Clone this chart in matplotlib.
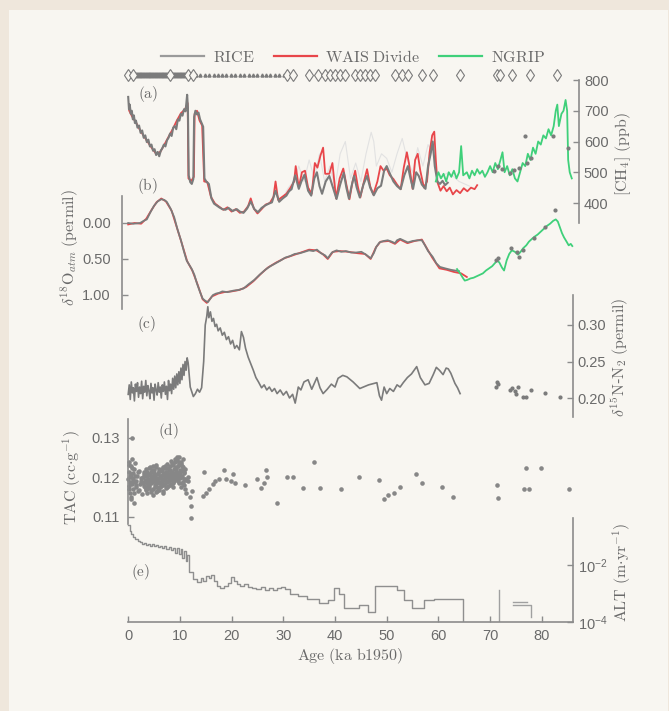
import matplotlib
matplotlib.use('Agg')
import matplotlib.pyplot as plt
from matplotlib.patches import Rectangle
from matplotlib.lines import Line2D
from matplotlib.ticker import FormatStrFormatter, NullLocator

# ---------------- data (age in ka b1950) ----------------
tie_ages = [0.0, 1.0, 8.1, 11.6, 12.6, 30.7, 31.9, 35.0, 36.8, 38.1, 39.0, 40.0, 41.0, 41.9,
            43.9, 44.8, 45.8, 46.8, 47.7, 51.6, 52.9, 54.2, 56.8, 59.0, 64.2, 71.3, 71.9,
            74.2, 77.7, 82.9]
layer_ages = [0.0, 0.25, 0.5, 0.75, 1.0, 1.25, 1.5, 1.75, 2.0, 2.25, 2.5, 2.75, 3.0, 3.25,
              3.5, 3.75, 4.0, 4.25, 4.5, 4.75, 5.0, 5.25, 5.5, 5.75, 6.0, 6.25, 6.5, 6.75,
              7.0, 7.25, 7.5, 7.75, 8.0, 8.25, 8.5, 8.75, 9.0, 9.25, 9.5, 9.75, 10.0, 10.25,
              10.5, 10.75, 11.0, 11.25, 11.5, 11.75, 12.0, 12.25, 12.5]
sparse_ages = [13.1, 13.9, 14.8, 15.6, 16.5, 17.3, 18.2, 19.0, 19.9, 20.7, 21.6, 22.4, 23.3,
               24.1, 25.0, 25.8, 26.7, 27.5, 28.4, 29.2, 30.1]

rice_ch4 = [(0.0, 745), (0.15, 705), (0.3, 720), (0.5, 690), (0.7, 700), (0.9, 672), (1.1, 685),
            (1.3, 660), (1.5, 668), (1.8, 645), (2.1, 652), (2.4, 628), (2.7, 636), (3.0, 612),
            (3.3, 620), (3.6, 598), (3.9, 606), (4.2, 584), (4.5, 590), (4.8, 570), (5.1, 575),
            (5.4, 556), (5.7, 566), (6.0, 552), (6.3, 570), (6.6, 578), (6.9, 590), (7.2, 584),
            (7.5, 604), (7.8, 612), (8.1, 626), (8.4, 618), (8.7, 645), (9.0, 650), (9.3, 640),
            (9.6, 672), (9.9, 668), (10.2, 690), (10.5, 684), (10.8, 705), (11.1, 698), (11.4, 752),
            (11.55, 710), (11.7, 490), (12.0, 468), (12.3, 462), (12.6, 478), (12.75, 680),
            (13.0, 700), (13.3, 688), (13.6, 694), (13.9, 672), (14.2, 660), (14.5, 648),
            (14.75, 480), (15.1, 470), (15.6, 462), (16.1, 415), (16.6, 398), (17.1, 392),
            (17.6, 386), (18.2, 380), (18.8, 378), (19.4, 384), (20.2, 374), (21.0, 380),
            (21.6, 372), (22.3, 368), (23.0, 382), (23.7, 405), (24.4, 380), (25.1, 370),
            (25.8, 384), (26.5, 392), (27.2, 398), (27.8, 402), (28.5, 440), (29.2, 404),
            (29.9, 415), (30.6, 424), (31.1, 438), (31.6, 445), (32.3, 490), (33.0, 446),
            (33.5, 470), (34.1, 492), (34.8, 440), (35.4, 424), (36.0, 480), (36.5, 500),
            (37.0, 455), (37.5, 430), (38.2, 470), (38.9, 488), (39.6, 450), (40.3, 413),
            (41.0, 460), (41.7, 498), (42.2, 450), (42.7, 414), (43.2, 455), (43.7, 488),
            (44.2, 450), (44.8, 418), (45.5, 460), (46.2, 488), (46.8, 450), (47.5, 425),
            (48.2, 448), (48.9, 456), (49.5, 505), (50.0, 520), (50.5, 500), (51.3, 470),
            (52.0, 455), (52.7, 445), (53.4, 490), (54.1, 520), (54.6, 480), (55.1, 446),
            (55.7, 500), (56.2, 488), (56.8, 460), (57.5, 446), (58.0, 520), (58.5, 560),
            (58.9, 600), (59.3, 520), (59.8, 470), (60.3, 462), (60.8, 472), (61.3, 458),
            (61.8, 466)]
rice_ch4_late = [(70.8, 505), (71.6, 520), (72.3, 512), (73.8, 498), (74.6, 506), (75.6, 515),
                 (76.8, 617), (77.2, 530), (78.0, 545), (82.1, 617), (85.0, 580)]
wais_ch4 = [(0.2, 700), (0.8, 680), (1.5, 662), (2.2, 640), (3.0, 618), (3.8, 598), (4.6, 578),
            (5.4, 560), (6.2, 566), (7.0, 590), (7.8, 615), (8.6, 640), (9.4, 668), (10.2, 692),
            (11.0, 705), (11.5, 725), (11.65, 480), (12.2, 472), (12.7, 485), (12.85, 690),
            (13.3, 700), (13.8, 668), (14.3, 652), (14.7, 470), (15.3, 468), (16.0, 420),
            (16.8, 398), (17.6, 388), (18.4, 378), (19.2, 386), (20.0, 372), (20.8, 380),
            (21.6, 368), (22.4, 372), (23.2, 390), (23.7, 415), (24.3, 382), (25.0, 366),
            (25.8, 380), (26.6, 395), (27.4, 400), (28.1, 420), (28.5, 470), (29.0, 410),
            (29.8, 420), (30.6, 430), (31.4, 450), (32.1, 470), (32.4, 520), (33.0, 450),
            (33.6, 500), (34.2, 505), (34.8, 450), (35.5, 430), (36.1, 530), (36.6, 515),
            (37.2, 555), (37.7, 580), (38.1, 495), (38.9, 495), (39.5, 530), (40.2, 415),
            (40.9, 480), (41.6, 512), (42.2, 460), (42.8, 412), (43.4, 470), (43.9, 505),
            (44.4, 455), (44.9, 418), (45.6, 470), (46.2, 510), (46.8, 455), (47.4, 428),
            (48.2, 470), (48.8, 520), (49.4, 505), (50.0, 512), (50.6, 490), (51.3, 478),
            (52.0, 460), (52.7, 445), (53.3, 515), (53.9, 565), (54.3, 530), (55.0, 446),
            (55.5, 540), (56.0, 560), (56.5, 505), (57.2, 450), (57.8, 470), (58.3, 565),
            (58.8, 620), (59.2, 632), (59.5, 540), (59.8, 468), (60.4, 440), (61.0, 455),
            (61.6, 438), (62.2, 450), (62.8, 428), (63.5, 442), (64.2, 432), (64.9, 448),
            (65.6, 438), (66.3, 450), (67.0, 445), (67.5, 458)]
faint_ch4 = [(30.0, 420), (31.0, 450), (32.0, 470), (33.0, 520), (34.0, 470), (35.0, 540),
             (36.0, 480), (37.0, 560), (38.0, 470), (39.0, 520), (40.0, 450), (41.0, 560),
             (42.0, 600), (43.0, 480), (44.0, 530), (45.0, 470), (46.0, 560), (47.0, 630),
             (47.5, 600), (48.0, 520), (49.0, 560), (50.0, 545), (51.0, 500), (52.0, 560),
             (53.0, 610), (54.0, 540), (55.0, 500), (56.0, 580), (57.0, 520), (58.0, 590),
             (59.0, 560), (60.0, 480), (62.0, 500), (64.0, 470), (66.0, 455)]
ngrip_ch4 = [(59.5, 470), (60.0, 500), (60.5, 480), (61.0, 495), (61.5, 470), (62.0, 500),
             (62.5, 485), (63.0, 505), (63.5, 480), (64.0, 500), (64.4, 585), (64.8, 490),
             (65.5, 500), (66.0, 480), (66.5, 505), (67.0, 490), (67.5, 510), (68.0, 495),
             (68.5, 505), (69.0, 485), (69.5, 500), (70.0, 520), (70.5, 500), (71.0, 530),
             (71.5, 510), (72.0, 540), (72.4, 565), (72.8, 500), (73.3, 520), (73.8, 490),
             (74.3, 510), (74.8, 480), (75.3, 470), (75.8, 500), (76.3, 530), (76.8, 520),
             (77.3, 560), (77.8, 540), (78.3, 580), (78.8, 560), (79.3, 600), (79.8, 590),
             (80.3, 620), (80.8, 610), (81.3, 640), (81.8, 620), (82.3, 650), (82.7, 700),
             (83.0, 720), (83.3, 650), (83.8, 690), (84.2, 700), (84.6, 735), (84.9, 700),
             (85.1, 540), (85.4, 500), (85.8, 480)]

rice_d18o = [(0.0, 0.0), (1.0, 0.01), (2.3, 0.0), (3.0, -0.03), (3.6, -0.05), (4.3, -0.15),
             (5.0, -0.24), (5.7, -0.30), (6.4, -0.33), (7.0, -0.32), (7.5, -0.29), (8.2, -0.2),
             (8.9, -0.08), (9.5, 0.08), (10.2, 0.24), (10.8, 0.4), (11.3, 0.52), (11.8, 0.58),
             (12.3, 0.64), (12.8, 0.72), (13.3, 0.84), (13.9, 0.96), (14.4, 1.05), (14.9, 1.08),
             (15.4, 1.1), (15.9, 1.05), (16.4, 1.0), (17.0, 0.98), (17.6, 0.97), (18.2, 0.95),
             (19.2, 0.96), (20.3, 0.94), (21.3, 0.93), (22.3, 0.91), (23.3, 0.85), (24.4, 0.79),
             (25.4, 0.72), (26.5, 0.65), (27.5, 0.6), (28.5, 0.56), (29.5, 0.52), (30.4, 0.48),
             (31.3, 0.46), (32.2, 0.43), (33.2, 0.42), (34.1, 0.40), (35.0, 0.38), (35.8, 0.39),
             (36.5, 0.37), (37.3, 0.42), (38.1, 0.45), (38.6, 0.49), (39.4, 0.41), (40.3, 0.38),
             (41.2, 0.40), (42.1, 0.39), (43.1, 0.41), (44.1, 0.41), (45.1, 0.40), (46.0, 0.44),
             (46.9, 0.49), (47.5, 0.42), (48.0, 0.33), (48.6, 0.27), (49.4, 0.25), (50.2, 0.24),
             (51.0, 0.26), (51.6, 0.28), (52.0, 0.24), (52.6, 0.22), (53.2, 0.24), (54.1, 0.27),
             (55.0, 0.25), (56.0, 0.24), (56.8, 0.24), (57.4, 0.31), (58.0, 0.39), (58.9, 0.47),
             (59.6, 0.56), (60.3, 0.61), (61.3, 0.63), (62.4, 0.65), (63.2, 0.66), (64.0, 0.67)]
wais_d18o = [(0.0, 0.02), (1.2, 0.0), (2.5, 0.01), (3.5, -0.06), (4.5, -0.18), (5.5, -0.29),
             (6.4, -0.34), (7.3, -0.30), (8.4, -0.17), (9.4, 0.06), (10.4, 0.29), (11.4, 0.53),
             (12.4, 0.66), (13.4, 0.85), (14.4, 1.06), (15.2, 1.11), (16.2, 1.02), (17.4, 0.98),
             (18.6, 0.96), (20.0, 0.95), (21.5, 0.93), (22.8, 0.89), (24.2, 0.81), (25.6, 0.71),
             (27.0, 0.62), (28.6, 0.55), (30.2, 0.49), (31.8, 0.45), (33.4, 0.41), (35.0, 0.37),
             (36.4, 0.38), (37.6, 0.43), (38.6, 0.50), (39.6, 0.40), (41.0, 0.39), (42.6, 0.40),
             (44.4, 0.42), (45.8, 0.43), (46.9, 0.50), (47.9, 0.34), (48.8, 0.26), (50.4, 0.25),
             (51.6, 0.29), (52.6, 0.23), (54.0, 0.28), (55.4, 0.25), (56.8, 0.23), (57.6, 0.33),
             (58.8, 0.48), (60.2, 0.63), (61.6, 0.65), (63.0, 0.68), (64.4, 0.70), (65.5, 0.75)]
ngrip_d18o = [(63.6, 0.64), (64.2, 0.70), (64.8, 0.77), (65.1, 0.80), (65.6, 0.79), (66.2, 0.77),
              (66.8, 0.76), (67.4, 0.74), (68.0, 0.72), (68.6, 0.70), (69.2, 0.66), (69.8, 0.63),
              (70.4, 0.60), (70.9, 0.56), (71.4, 0.52), (71.8, 0.55), (72.3, 0.62), (72.7, 0.66),
              (73.2, 0.52), (73.7, 0.43), (74.2, 0.38), (74.8, 0.40), (75.4, 0.44), (75.9, 0.40),
              (76.4, 0.35), (77.0, 0.31), (77.5, 0.26), (78.1, 0.22), (78.6, 0.19), (79.2, 0.16),
              (79.8, 0.12), (80.4, 0.08), (81.0, 0.04), (81.6, 0.01), (82.2, -0.03), (82.7, -0.05),
              (83.1, -0.02), (83.5, 0.06), (83.9, 0.14), (84.3, 0.20), (84.8, 0.26), (85.2, 0.31),
              (85.6, 0.29), (85.9, 0.32)]
rice_d18o_dots = [(71.2, 0.52), (71.5, 0.48), (74.0, 0.35), (75.2, 0.40), (75.6, 0.47),
                  (76.4, 0.38), (78.4, 0.21), (80.6, 0.06), (82.6, -0.18)]

d15n = [(0.0, 0.205), (0.2, 0.218), (0.4, 0.198), (0.6, 0.222), (0.8, 0.207), (1.0, 0.214),
        (1.2, 0.196), (1.4, 0.219), (1.6, 0.209), (1.8, 0.221), (2.0, 0.201), (2.2, 0.215),
        (2.4, 0.206), (2.6, 0.223), (2.8, 0.199), (3.0, 0.216), (3.2, 0.208), (3.4, 0.224),
        (3.6, 0.203), (3.8, 0.217), (4.0, 0.210), (4.2, 0.199), (4.4, 0.220), (4.6, 0.207),
        (4.8, 0.214), (5.0, 0.197), (5.2, 0.219), (5.4, 0.211), (5.6, 0.204), (5.8, 0.221),
        (6.0, 0.208), (6.2, 0.215), (6.4, 0.200), (6.6, 0.218), (6.8, 0.209), (7.0, 0.222),
        (7.2, 0.205), (7.4, 0.216), (7.6, 0.198), (7.8, 0.224), (8.0, 0.210), (8.2, 0.219),
        (8.4, 0.206), (8.6, 0.227), (8.8, 0.212), (9.0, 0.230), (9.2, 0.214), (9.4, 0.233),
        (9.6, 0.218), (9.8, 0.236), (10.0, 0.220), (10.2, 0.241), (10.4, 0.225), (10.6, 0.246),
        (10.8, 0.231), (11.0, 0.250), (11.2, 0.238), (11.4, 0.255), (11.6, 0.248), (12.0, 0.215),
        (12.6, 0.202), (13.0, 0.206), (13.4, 0.212), (13.8, 0.208), (14.2, 0.214), (14.6, 0.250),
        (14.9, 0.300), (15.2, 0.312), (15.4, 0.325), (15.6, 0.310), (15.9, 0.318), (16.2, 0.305),
        (16.5, 0.309), (16.8, 0.298), (17.1, 0.301), (17.4, 0.292), (17.8, 0.296), (18.2, 0.286),
        (18.6, 0.290), (19.0, 0.280), (19.4, 0.284), (19.8, 0.274), (20.2, 0.279), (20.6, 0.268),
        (21.0, 0.272), (21.5, 0.266), (21.9, 0.291), (22.3, 0.283), (22.7, 0.268), (23.2, 0.256),
        (23.7, 0.247), (24.2, 0.238), (24.7, 0.228), (25.2, 0.222), (25.8, 0.214), (26.3, 0.218),
        (26.8, 0.211), (27.3, 0.215), (27.8, 0.209), (28.3, 0.213), (28.8, 0.206), (29.4, 0.211),
        (30.0, 0.204), (30.6, 0.209), (31.2, 0.200), (31.8, 0.205), (32.3, 0.193), (32.9, 0.215),
        (33.4, 0.211), (34.0, 0.222), (34.8, 0.225), (35.5, 0.212), (36.5, 0.228), (37.1, 0.214),
        (37.7, 0.206), (38.5, 0.212), (39.3, 0.219), (40.0, 0.215), (40.6, 0.227), (41.5, 0.231),
        (42.3, 0.229), (43.5, 0.222), (44.8, 0.213), (46.5, 0.218), (48.1, 0.221), (48.6, 0.203),
        (49.0, 0.197), (49.5, 0.215), (50.0, 0.206), (50.6, 0.213), (51.3, 0.209), (52.0, 0.218),
        (52.6, 0.215), (53.2, 0.221), (54.0, 0.228), (54.8, 0.233), (55.8, 0.243), (56.5, 0.228),
        (57.4, 0.218), (58.2, 0.220), (59.0, 0.232), (59.6, 0.242), (60.2, 0.238), (60.9, 0.232),
        (61.5, 0.241), (61.9, 0.240), (62.4, 0.234), (63.2, 0.220), (63.7, 0.214), (64.2, 0.206)]
d15n_dots = [(71.3, 0.222), (71.1, 0.215), (71.5, 0.219), (73.8, 0.211), (74.3, 0.214),
             (74.8, 0.209), (75.4, 0.215), (75.0, 0.205), (76.4, 0.202), (77.0, 0.201),
             (78.0, 0.211), (80.6, 0.207), (83.5, 0.201)]

tac_age = [0.05, 0.1, 0.15, 0.2, 0.3, 0.35, 0.4, 0.5, 0.55, 0.6, 0.7, 0.8, 0.85, 0.9, 1.0, 1.1,
           1.2, 1.3, 1.4, 1.5, 1.6, 1.8, 2.0, 2.2, 2.4, 2.6, 2.8, 3.0, 3.2,
           3.3, 3.4, 3.5, 3.6, 3.7, 3.8, 3.9, 4.0, 4.1, 4.2, 4.3, 4.4, 4.5, 4.6, 4.7, 4.8, 4.9,
           5.0, 5.1, 5.2, 5.3, 5.4, 5.5, 5.6, 5.7, 5.8, 5.9, 6.0, 6.1, 6.2, 6.3, 6.4, 6.5, 6.6,
           6.7, 6.8, 6.9, 7.0, 7.1, 7.2, 7.3, 7.4, 7.5, 7.6, 7.7, 7.8, 7.9, 8.0, 8.1, 8.2, 8.3,
           8.4, 8.5, 8.6, 8.7, 8.8, 8.9, 9.0, 9.1, 9.2, 9.3, 9.4, 9.5, 9.6, 9.7, 9.8, 9.9, 10.0,
           10.1, 10.2, 10.3, 10.4, 10.5, 10.6, 10.7, 10.8, 10.9, 11.0, 11.1, 11.2,
           0.7, 11.5, 11.6, 11.9, 12.2, 12.2, 12.4, 14.4, 14.7, 15.0, 15.7, 16.4, 16.8, 17.5,
           18.6, 18.9, 19.9, 20.3, 20.6, 22.5, 24.9, 25.6, 26.2, 26.6, 26.9, 28.8, 30.8, 31.9,
           33.8, 36.0, 37.1, 41.1, 44.6, 48.5, 49.4, 50.3, 51.5, 52.6, 55.7, 56.9, 60.7, 62.8,
           71.3, 71.6, 76.6, 77.5, 77.0, 79.8, 85.2]
tac_val = [.1195, .1215, .1178, .1240, .1205, .1162, .1188, .1229, .1150, .1201, .1183, .1247,
           .1212, .1170, .1196, .1135, .1221, .1189, .1204, .1176, .1192, .1213, .1168, .1184,
           .1199, .1157, .1186, .1209, .1175,
           .1188, .1172, .1203, .1215, .1161, .1196, .1182, .1224, .1177, .1193,
           .1206, .1169, .1185, .1219, .1198, .1155, .1190, .1211, .1176, .1202,
           .1183, .1227, .1195, .1166, .1208, .1189, .1174, .1216, .1199, .1185,
           .1205, .1178, .1221, .1192, .1160, .1210, .1197, .1184, .1230, .1201,
           .1188, .1214, .1203, .1176, .1225, .1196, .1209, .1182, .1218, .1200,
           .1211, .1194, .1236, .1205, .1187, .1222, .1208, .1198, .1240, .1215,
           .1226, .1203, .1245, .1212, .1190, .1233, .1252, .1218, .1207, .1238,
           .1200, .1229, .1185, .1248, .1214, .1196, .1172, .1221, .1193, .1160,
           .1300, .1200, .1192, .1150, .1128, .1098, .1166, .1153, .1213, .1162, .1170, .1183,
           .1190, .1195, .1220, .1195, .1190, .1210, .1185, .1180, .1195, .1174, .1187, .1220,
           .1200, .1135, .1200, .1200, .1174, .1238, .1174, .1170, .1200, .1194, .1145, .1155,
           .1160, .1175, .1210, .1185, .1175, .1150, .1180, .1147, .1170, .1170, .1225, .1225,
           .1170]
# second batch of Holocene TAC samples
tac_age2 = [0.12, 0.25, 0.38, 0.45, 0.62, 0.75, 0.95, 1.05, 1.25, 1.45,
            1.7, 1.9, 2.1, 2.5, 2.9, 3.05, 3.15, 3.25, 3.35, 3.45,
            3.55, 3.65, 3.75, 3.85, 3.95, 4.05, 4.15, 4.25, 4.35, 4.45,
            4.55, 4.65, 4.75, 4.85, 4.95, 5.05, 5.15, 5.25, 5.35, 5.45,
            5.55, 5.65, 5.75, 5.85, 5.95, 6.05, 6.15, 6.25, 6.35, 6.45,
            6.55, 6.65, 6.75, 6.85, 6.95, 7.05, 7.15, 7.25, 7.35, 7.45,
            7.55, 7.65, 7.75, 7.85, 7.95, 8.05, 8.15, 8.25, 8.35, 8.45,
            8.55, 8.65, 8.75, 8.85, 8.95, 9.05, 9.15, 9.25, 9.35, 9.45,
            9.55, 9.65, 9.75, 9.85, 9.95, 10.05, 10.15, 10.25, 10.35, 10.45,
            10.55, 10.65, 10.75, 10.85, 10.95]
tac_val2 = [.1172, .1231, .1186, .1208, .1145, .1224, .1191, .1160, .1236, .1180,
            .1203, .1166, .1217, .1190, .1201, .1179, .1213, .1194, .1168, .1222,
            .1187, .1205, .1173, .1210, .1192, .1181, .1226, .1197, .1164, .1214,
            .1188, .1203, .1229, .1171, .1195, .1218, .1180, .1206, .1163, .1232,
            .1191, .1176, .1212, .1199, .1169, .1221, .1186, .1204, .1178, .1216,
            .1193, .1227, .1167, .1209, .1182, .1223, .1196, .1174, .1213, .1189,
            .1235, .1201, .1179, .1219, .1192, .1228, .1205, .1184, .1243, .1198,
            .1215, .1176, .1232, .1207, .1190, .1246, .1211, .1222, .1195, .1251,
            .1204, .1229, .1186, .1240, .1214, .1198, .1233, .1175, .1219, .1205,
            .1189, .1226, .1181, .1212, .1197]

alt = [(0.0, 0.25), (0.3, 0.16), (0.6, 0.12), (1.0, 0.095), (1.4, 0.08), (1.8, 0.07),
       (2.2, 0.066), (2.6, 0.056), (3.0, 0.06), (3.4, 0.052), (3.8, 0.056), (4.2, 0.048),
       (4.6, 0.053), (5.0, 0.046), (5.4, 0.051), (5.8, 0.043), (6.2, 0.048), (6.6, 0.041),
       (7.0, 0.046), (7.4, 0.037), (7.8, 0.043), (8.2, 0.033), (8.6, 0.041), (9.0, 0.027),
       (9.4, 0.039), (9.8, 0.024), (10.2, 0.036), (10.5, 0.018), (10.8, 0.032), (11.1, 0.014),
       (11.4, 0.022), (11.7, 0.0058), (12.6, 0.0032), (13.4, 0.0026), (14.0, 0.0034),
       (14.5, 0.0027), (15.0, 0.0041), (15.6, 0.0034), (16.1, 0.0046), (16.6, 0.0028),
       (17.2, 0.0019), (17.8, 0.0016), (18.6, 0.0019), (19.4, 0.0024), (19.9, 0.0038),
       (20.5, 0.0027), (21.0, 0.0021), (21.6, 0.0019), (22.4, 0.0022), (23.2, 0.0017),
       (24.0, 0.0015), (24.8, 0.0014), (25.6, 0.0017), (26.4, 0.0013), (27.2, 0.0016),
       (28.0, 0.0013), (28.8, 0.0015), (29.6, 0.0017), (30.4, 0.0014), (31.2, 0.00095),
       (32.8, 0.0008), (34.6, 0.00065), (36.9, 0.00045), (38.6, 0.0006), (39.8, 0.0016),
       (40.8, 0.001), (41.8, 0.0003), (44.6, 0.0004), (46.4, 0.00023), (47.8, 0.0018),
       (52.0, 0.0013), (53.4, 0.0006), (54.8, 0.0003), (57.2, 0.00058), (59.2, 0.00062),
       (64.8, 0.00006)]
alt_b = [(71.7, 0.00006), (71.7, 0.0013)]
alt_c = [(74.5, 0.0005), (77.2, 0.0005)]
alt_d = [(74.5, 0.0004), (77.9, 0.0004), (77.9, 0.00015)]

# ---------------- style ----------------
plt.rcParams['mathtext.fontset'] = 'cm'
plt.rcParams['font.family'] = ['Liberation Sans', 'DejaVu Sans']

GRAY = '#7b7b7b'
RED = '#e8464a'
GREEN = '#3fd07a'
SPINE = '#8c8c8c'
TXT = '#6a6a6a'
BG = '#f8f6f1'

W, H = 669, 711
fig = plt.figure(figsize=(W / 100, H / 100), dpi=100, facecolor='#efe7dc')
fig.patches.append(Rectangle((9 / W, 0), 1 - 10 / W, 1 - 10 / H, transform=fig.transFigure,
                             facecolor=BG, edgecolor='none', zorder=-10))

XL = (-1.5, 87.5)
X0, SX = 128.2, 5.17  # pixel of age 0, pixels per ka
left = (X0 + SX * XL[0]) / W
width = SX * (XL[1] - XL[0]) / W


def add_ax(top_px, bot_px):
    ax = fig.add_axes([left, 1 - bot_px / H, width, (bot_px - top_px) / H])
    ax.patch.set_visible(False)
    for s in ax.spines.values():
        s.set_visible(False)
        s.set_color(SPINE)
        s.set_linewidth(1.2)
    ax.set_xlim(*XL)
    ax.set_xticks([])
    ax.tick_params(direction='in', length=4, width=1, color=SPINE,
                   labelsize=10.5, labelcolor=TXT)
    return ax


def split(pairs):
    return [p[0] for p in pairs], [p[1] for p in pairs]


# (a) CH4
ax_a = add_ax(80 - 30 * 0.3075, 80 + 500 * 0.3075)
ax_a.set_ylim(300, 830)
ax_a.yaxis.tick_right()
ax_a.spines['right'].set_visible(True)
ax_a.spines['right'].set_position(('data', 87.2))
ax_a.spines['right'].set_bounds(335, 800)
ax_a.set_yticks([400, 500, 600, 700, 800])
x, y = split(faint_ch4)
ax_a.plot(x, y, color='#e2e2e2', lw=0.8)
x, y = split(wais_ch4)
ax_a.plot(x, y, color=RED, lw=1.3)
x, y = split(rice_ch4)
ax_a.plot(x, y, color=GRAY, lw=1.5)
x, y = split(ngrip_ch4)
ax_a.plot(x, y, color=GREEN, lw=1.3)
x, y = split(rice_ch4_late)
ax_a.plot(x, y, 'o', color=GRAY, ms=2)
ax_a.plot(layer_ages, [815] * len(layer_ages), 's', color=GRAY, ms=2.2, clip_on=False)
ax_a.plot(sparse_ages, [815] * len(sparse_ages), '^', color=GRAY, ms=2.2, clip_on=False)
ax_a.plot(tie_ages, [815] * len(tie_ages), 'd', mfc=BG, mec=GRAY, mew=0.8, ms=6,
          clip_on=False)

# (b) d18O atm (inverted)
ax_b = add_ax(223 - 0.45 * 72, 223 + 1.3 * 72)
ax_b.set_ylim(1.3, -0.45)
ax_b.spines['left'].set_visible(True)
ax_b.spines['left'].set_position(('data', -1.2))
ax_b.spines['left'].set_bounds(-0.38, 1.2)
ax_b.set_yticks([0.0, 0.5, 1.0])
ax_b.yaxis.set_major_formatter(FormatStrFormatter('%.2f'))
ax_b.tick_params(axis='y', pad=8)
x, y = split(wais_d18o)
ax_b.plot(x, y, color=RED, lw=1.3)
x, y = split(rice_d18o)
ax_b.plot(x, y, color=GRAY, lw=1.3)
x, y = split(ngrip_d18o)
ax_b.plot(x, y, color=GREEN, lw=1.3)
x, y = split(rice_d18o_dots)
ax_b.plot(x, y, 'o', color=GRAY, ms=2)

# (c) d15N
ax_c = add_ax(398 - 0.16 * 730, 398 + 0.04 * 730)
ax_c.set_ylim(0.16, 0.36)
ax_c.yaxis.tick_right()
ax_c.spines['right'].set_visible(True)
ax_c.spines['right'].set_position(('data', 86.0))
ax_c.spines['right'].set_bounds(0.174, 0.341)
ax_c.set_yticks([0.20, 0.25, 0.30])
ax_c.yaxis.set_major_formatter(FormatStrFormatter('%.2f'))
x, y = split(d15n)
ax_c.plot(x, y, color=GRAY, lw=1.2)
x, y = split(d15n_dots)
ax_c.plot(x, y, 'o', color=GRAY, ms=2)

# (d) TAC
ax_d = add_ax(477.5 - 0.017 * 3950, 477.5 + 0.015 * 3950)
ax_d.set_ylim(0.105, 0.137)
ax_d.spines['left'].set_visible(True)
ax_d.spines['left'].set_position(('data', 0.0))
ax_d.spines['left'].set_bounds(0.1082, 0.1348)
ax_d.set_yticks([0.11, 0.12, 0.13])
ax_d.yaxis.set_major_formatter(FormatStrFormatter('%.2f'))
ax_d.tick_params(axis='y', pad=6)
ax_d.plot(tac_age, tac_val, 'o', color='#878787', ms=3.3, mew=0)
ax_d.plot(tac_age2, tac_val2, 'o', color='#878787', ms=3.3, mew=0)

# (e) ALT
ax_e = add_ax(622 - 3.8 * 28.5, 622)
ax_e.set_yscale('log')
ax_e.set_ylim(1e-4, 10 ** -0.2)
ax_e.yaxis.tick_right()
ax_e.spines['right'].set_visible(True)
ax_e.spines['right'].set_position(('data', 86.0))
ax_e.spines['right'].set_bounds(1e-4, 10 ** -0.35)
ax_e.spines['bottom'].set_visible(True)
ax_e.spines['bottom'].set_bounds(0, 86)
ax_e.set_yticks([1e-4, 1e-2])
ax_e.yaxis.set_minor_locator(NullLocator())
ax_e.set_xticks([0, 10, 20, 30, 40, 50, 60, 70, 80])
ax_e.tick_params(axis='x', direction='in', length=4, labelsize=10.5, labelcolor=TXT, pad=5)
x, y = split(alt)
ax_e.plot(x, y, color='#8f8f8f', lw=1.0, drawstyle='steps-post')
for seg in (alt_b, alt_c, alt_d):
    x, y = split(seg)
    ax_e.plot(x, y, color='#a0a0a0', lw=1.0)
ax_e.set_xlabel(r'$\mathrm{Age\ (ka\ b1950)}$', fontsize=11.5, color=TXT, labelpad=2)

# axis titles
lab = dict(rotation=90, ha='center', va='center', color=TXT, fontsize=11.5)
fig.text(623 / W, 1 - 154 / H, r'$[\mathrm{CH}_4]\ \mathrm{(ppb)}$', **lab)
fig.text(620 / W, 1 - 357 / H, r'$\delta^{15}\mathrm{N}$-$\mathrm{N}_2\ \mathrm{(permil)}$', **lab)
fig.text(622 / W, 1 - 572 / H, r'$\mathrm{ALT\ (m{\cdot}yr^{-1})}$', **lab)
fig.text(70 / W, 1 - 248 / H, r'$\delta^{18}\mathrm{O}_{atm}\ \mathrm{(permil)}$', **lab)
fig.text(72 / W, 1 - 477 / H, r'$\mathrm{TAC\ (cc{\cdot}g^{-1})}$', **lab)

# panel letters
letters = [('(a)', 148, 94), ('(b)', 147, 186), ('(c)', 147, 324), ('(d)', 168, 431),
           ('(e)', 141, 572)]
for t, px, py in letters:
    fig.text(px / W, 1 - py / H, r'$\mathrm{' + t + '}$', ha='center', va='center',
             color=TXT, fontsize=11)

# legend
handles = [Line2D([], [], color='#9a9a9a', lw=1.6), Line2D([], [], color=RED, lw=1.6),
           Line2D([], [], color=GREEN, lw=1.6)]
names = [r'$\mathrm{RICE}$', r'$\mathrm{WAIS\ Divide}$', r'$\mathrm{NGRIP}$']
leg = fig.legend(handles, names, loc='center', bbox_to_anchor=(353 / W, 1 - 57 / H), ncol=3,
                 frameon=False, handlelength=2.7, columnspacing=1.2, handletextpad=0.55,
                 prop={'size': 11.5})
for t in leg.get_texts():
    t.set_color(TXT)

fig.savefig('out.png', dpi=100, facecolor=fig.get_facecolor())
